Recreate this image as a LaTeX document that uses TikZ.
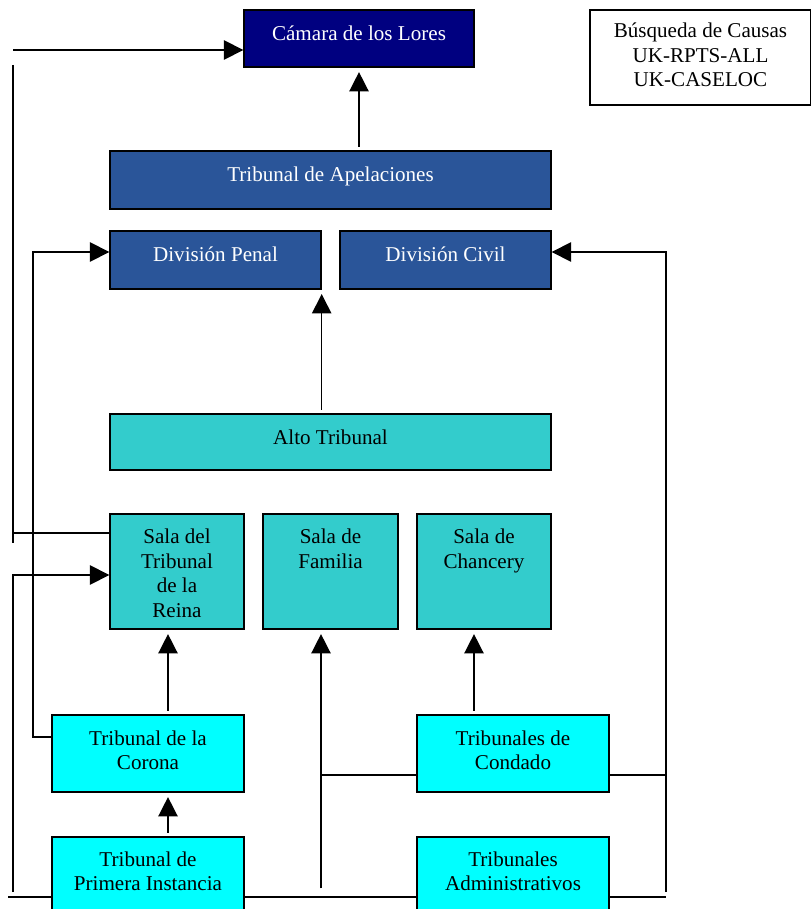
\documentclass[tikz,border=0pt]{standalone}
\usepackage{fontspec}
\setmainfont{Liberation Serif}
\usetikzlibrary{positioning}
\usetikzlibrary{arrows.meta}
\definecolor{navyb}{RGB}{0,0,128}
\definecolor{appb}{RGB}{42,85,153}
\definecolor{hiteal}{RGB}{51,204,204}
\definecolor{locyan}{RGB}{0,255,255}
\newcommand{\courtfont}{\fontsize{12}{14}\selectfont}
\tikzset{bx/.style={draw, line width=0.8pt, inner sep=0pt}}
\tikzset{lords/.style={bx, fill=navyb}}
\tikzset{appeal/.style={bx, fill=appb}}
\tikzset{high/.style={bx, fill=hiteal}}
\tikzset{low/.style={bx, fill=locyan}}
\tikzset{lbl/.style={align=center, inner sep=0pt, font=\courtfont, execute at begin node=\strut}}
\tikzset{wire/.style={line width=0.85pt}}
\tikzset{arr/.style={wire, -{Triangle[length=11pt, width=11pt]}}}
\tikzset{up/.style={arr, shorten <=2pt, shorten >=2.5pt}}

\begin{document}
\begin{tikzpicture}[x=0.02cm, y=-0.02cm]
\useasboundingbox (0,0) rectangle (811,909);

% boxes
\node[lords, minimum width=4.6cm, minimum height=1.14cm] (lores) at (359,38.5) {};
\node[bx, minimum width=4.42cm, minimum height=1.9cm] (search) at (700.5,57.5) {};
\node[appeal, minimum width=8.82cm, minimum height=1.16cm] (apel) at (330.5,180) {};
\node[appeal, minimum width=4.22cm, minimum height=1.16cm] (penal) at (215.5,260) {};
\node[appeal, minimum width=4.22cm, minimum height=1.16cm] (civil) at (445.5,260) {};
\node[high, minimum width=8.82cm, minimum height=1.12cm] (alto) at (330.5,442) {};
\node[high, minimum width=2.68cm, minimum height=2.3cm] (reina) at (177,571.5) {};
\node[high, minimum width=2.7cm, minimum height=2.3cm] (familia) at (330.5,571.5) {};
\node[high, minimum width=2.68cm, minimum height=2.3cm] (chancery) at (484,571.5) {};
\node[low, minimum width=3.84cm, minimum height=1.54cm] (corona) at (148,753.5) {};
\node[low, minimum width=3.84cm, minimum height=1.54cm] (condado) at (513,753.5) {};
\node[low, minimum width=3.84cm, minimum height=1.54cm] (primera) at (148,875.5) {};
\node[low, minimum width=3.84cm, minimum height=1.54cm] (admin) at (513,875.5) {};

% texts
\node[lbl, text=white, below=7.6pt of lores.north] (lores-t) {Cámara de los Lores};
\node[lbl, below=7.6pt of search.north] (search-t) {Búsqueda de Causas\\UK-RPTS-ALL\\UK-CASELOC};
\node[lbl, text=white, below=8pt of apel.north] (apel-t) {Tribunal de Apelaciones};
\node[lbl, text=white, below=8pt of penal.north] (penal-t) {División Penal};
\node[lbl, text=white, below=8pt of civil.north] (civil-t) {División Civil};
\node[lbl, below=7.8pt of alto.north] (alto-t) {Alto Tribunal};
\node[lbl, below=8.8pt of reina.north] (reina-t) {Sala del\\Tribunal\\de la\\Reina};
\node[lbl, below=8.8pt of familia.north] (familia-t) {Sala de\\Familia};
\node[lbl, below=8.8pt of chancery.north] (chancery-t) {Sala de\\Chancery};
\node[lbl, below=9pt of corona.north] (corona-t) {Tribunal de la\\Corona};
\node[lbl, below=9pt of condado.north] (condado-t) {Tribunales de\\Condado};
\node[lbl, below=8.5pt of primera.north] (primera-t) {Tribunal de\\Primera Instancia};
\node[lbl, below=8.5pt of admin.north] (admin-t) {Tribunales\\Administrativos};

% free ends
\coordinate (l1) at (13,50);
\coordinate (l2) at (13,65);
\coordinate (l3) at (13,543);
\coordinate (qb) at (13,533);
\coordinate (p1) at (33,737);
\coordinate (p2) at (33,252);
\coordinate (f1) at (13,892);
\coordinate (f2) at (13,575);
\coordinate (k1) at (321,892);
\coordinate (k2) at (321,775);
\coordinate (r1) at (666,892);
\coordinate (r2) at (666,252);
\coordinate (r3) at (666,775);
\coordinate (bl) at (8,897);
\coordinate (br) at (666,897);
\coordinate (qx) at (168,0);
\coordinate (cx) at (474,0);

% upward arrows
\draw[up] (apel.north -| lores.south) -- (lores.south);
\draw[up] (alto.north -| penal.east) -- (penal.south east);
\draw[up] (corona.north -| qx) -- (reina.south -| qx);
\draw[up] (primera.north -| qx) -- (corona.south -| qx);
\draw[up] (condado.north -| cx) -- (chancery.south -| cx);
\draw[up] (k1) -- (familia.south -| k1);

% side lines
\draw[arr] (l1) -- (l1 -| lores.west);
\draw[wire] (l2) -- (l3);
\draw[wire] (qb) -- (qb -| reina.west);
\draw[arr] (p1 -| corona.west) -- (p1) -- (p2) -- (p2 -| penal.west);
\draw[arr] (f1) -- (f2) -- (f2 -| reina.west);
\draw[arr] (r1) -- (r2) -- (r2 -| civil.east);
\draw[wire] (k2) -- (k2 -| condado.west);
\draw[wire] (condado.east |- r3) -- (r3);
\draw[wire] (bl) -- (bl -| primera.west);
\draw[wire] (primera.east |- bl) -- (admin.west |- bl);
\draw[wire] (admin.east |- bl) -- (br);
\end{tikzpicture}
\end{document}
